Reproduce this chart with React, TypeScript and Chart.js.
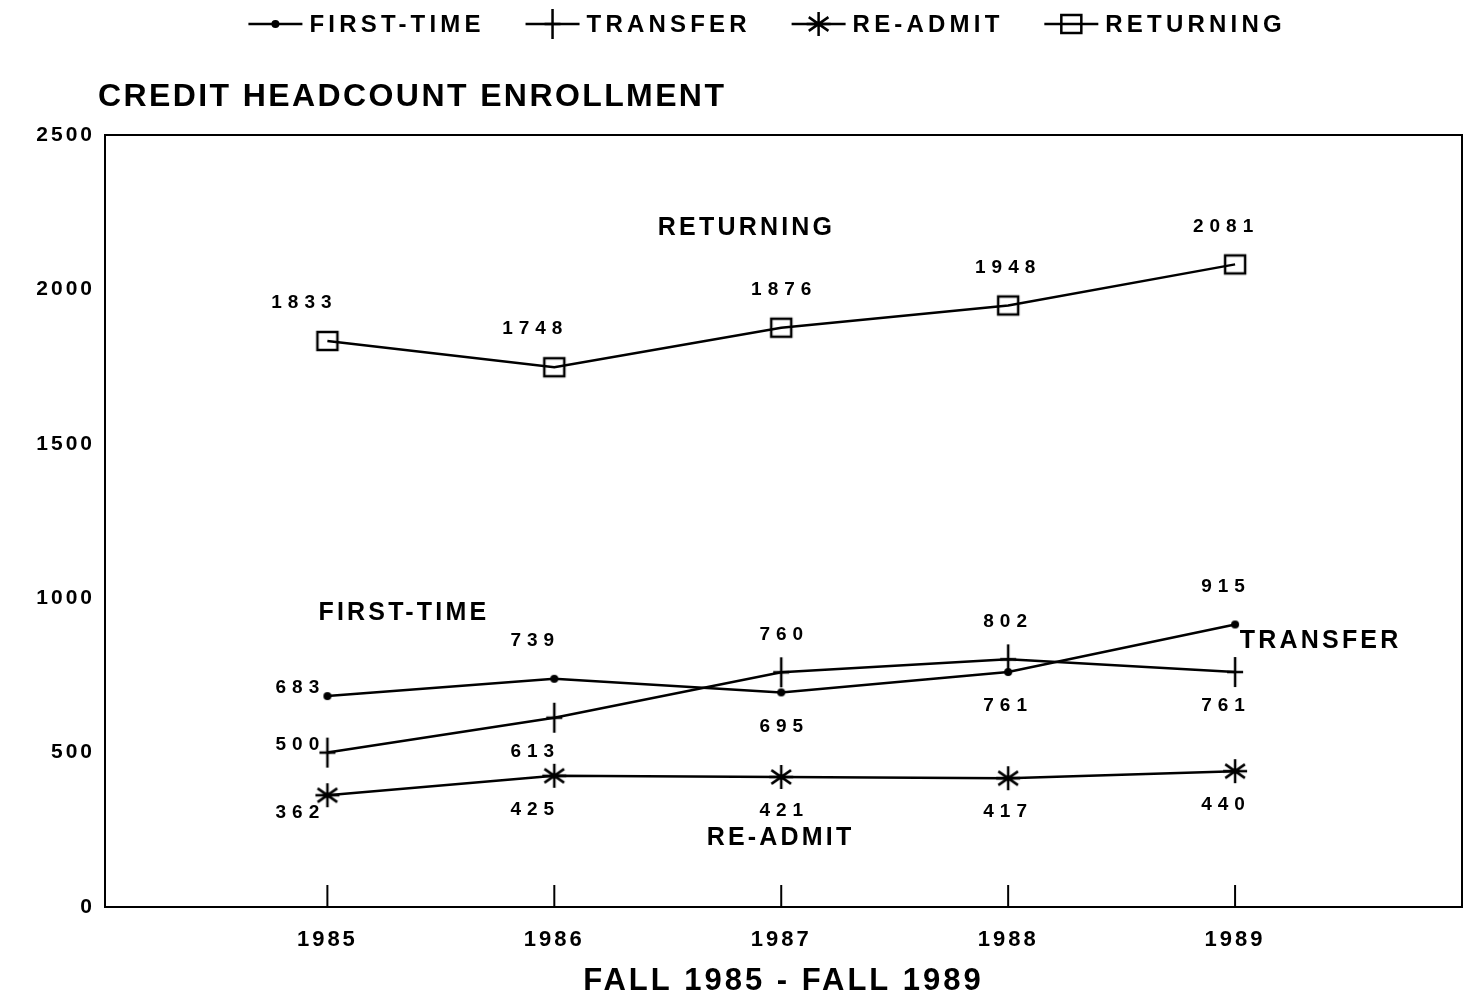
import React, { useEffect, useRef } from 'react';
import { Chart, registerables } from 'chart.js';
Chart.register(...registerables);

// ---------- data ----------
const YEARS = [1985, 1986, 1987, 1988, 1989];
const FIRST_TIME = [683, 739, 695, 761, 915];
const TRANSFER = [500, 613, 760, 802, 761];
const RE_ADMIT = [362, 425, 421, 417, 440];
const RETURNING = [1833, 1748, 1876, 1948, 2081];
const Y_TICKS = [0, 500, 1000, 1500, 2000, 2500];
const SERIES_NAMES = ['FIRST-TIME', 'TRANSFER', 'RE-ADMIT', 'RETURNING'];
const TITLE = 'CREDIT HEADCOUNT ENROLLMENT';
const X_TITLE = 'FALL 1985 - FALL 1989';

// label placement for value labels (per point)
const FIRST_TIME_SIDE = ['left', 'above', 'below', 'below', 'above'];
const TRANSFER_SIDE = ['left', 'below', 'above', 'above', 'below'];
const RE_ADMIT_SIDE = ['belowLeft', 'below', 'below', 'below', 'below'];
const RETURNING_SIDE = ['above', 'above', 'above', 'above', 'above'];
// in-plot series captions, anchored in data coordinates
const CAPTION_X = [1985.33, 1989.37, 1986.99, 1986.84];
const CAPTION_Y = [952, 861, 223, 2199];

const FONT = "'Liberation Sans', Arial, sans-serif";

type Kind = 'dot' | 'plus' | 'star' | 'square';
const KINDS: Kind[] = ['dot', 'plus', 'star', 'square'];

function drawMarker(ctx: CanvasRenderingContext2D, kind: Kind, cx: number, cy: number) {
  ctx.save();
  ctx.strokeStyle = '#000';
  ctx.fillStyle = '#000';
  ctx.lineWidth = 2.5;
  ctx.lineCap = 'butt';
  if (kind === 'dot') {
    ctx.beginPath();
    ctx.arc(cx, cy, 4, 0, Math.PI * 2);
    ctx.fill();
  } else if (kind === 'plus') {
    ctx.beginPath();
    ctx.moveTo(cx, cy - 15);
    ctx.lineTo(cx, cy + 15);
    ctx.moveTo(cx - 8, cy);
    ctx.lineTo(cx + 8, cy);
    ctx.stroke();
  } else if (kind === 'star') {
    const r = 12;
    ctx.beginPath();
    ctx.moveTo(cx, cy - r);
    ctx.lineTo(cx, cy + r);
    const a = (35 * Math.PI) / 180;
    ctx.moveTo(cx - r * Math.cos(a), cy - r * Math.sin(a));
    ctx.lineTo(cx + r * Math.cos(a), cy + r * Math.sin(a));
    ctx.moveTo(cx - r * Math.cos(a), cy + r * Math.sin(a));
    ctx.lineTo(cx + r * Math.cos(a), cy - r * Math.sin(a));
    ctx.moveTo(cx - r, cy);
    ctx.lineTo(cx + r, cy);
    ctx.stroke();
  } else {
    ctx.strokeRect(cx - 10, cy - 9, 20, 18);
  }
  ctx.restore();
}

function markerCanvas(kind: Kind): HTMLCanvasElement {
  const c = document.createElement('canvas');
  c.width = 36;
  c.height = 36;
  const ctx = c.getContext('2d')!;
  drawMarker(ctx, kind, 18, 18);
  return c;
}

function spacedText(ctx: CanvasRenderingContext2D, text: string, x: number, y: number, spacing: number, align: 'left' | 'center' | 'right') {
  (ctx as any).letterSpacing = spacing + 'px';
  const w = ctx.measureText(text).width - spacing;
  let sx = x;
  if (align === 'center') sx = x - w / 2;
  else if (align === 'right') sx = x - w;
  ctx.textAlign = 'left';
  ctx.fillText(text, sx, y);
  (ctx as any).letterSpacing = '0px';
}

const decorPlugin = {
  id: 'decor',
  beforeDraw(chart: any) {
    (chart.ctx as any).letterSpacing = '3px';
  },
  afterDraw(chart: any) {
    const ctx: CanvasRenderingContext2D = chart.ctx;
    const area = chart.chartArea;
    const xs = chart.scales.x;
    const ys = chart.scales.y;
    ctx.save();
    // frame
    ctx.strokeStyle = '#000';
    ctx.lineWidth = 2;
    ctx.strokeRect(area.left, area.top, area.right - area.left, area.bottom - area.top);
    // inward tick marks on the x axis
    ctx.lineWidth = 2;
    YEARS.forEach((yr) => {
      const px = xs.getPixelForValue(yr);
      ctx.beginPath();
      ctx.moveTo(px, area.bottom);
      ctx.lineTo(px, area.bottom - 22);
      ctx.stroke();
    });

    ctx.fillStyle = '#000';
    ctx.textBaseline = 'middle';

    // title
    ctx.font = `bold 32px ${FONT}`;
    spacedText(ctx, TITLE, area.left - 7, 97, 2.4, 'left');

    // legend
    ctx.font = `bold 24px ${FONT}`;
    const legendY = 24;
    const symW = 54;
    const gapSymText = 7;
    const gapItems = 45;
    const sp = 4.2;
    const widths = SERIES_NAMES.map((n) => {
      (ctx as any).letterSpacing = sp + 'px';
      const w = ctx.measureText(n).width - sp;
      (ctx as any).letterSpacing = '0px';
      return w;
    });
    const total = widths.reduce((a, w) => a + symW + gapSymText + w, 0) + gapItems * (SERIES_NAMES.length - 1);
    let lx = 765 - total / 2;
    SERIES_NAMES.forEach((n, i) => {
      ctx.strokeStyle = '#000';
      ctx.lineWidth = 2.5;
      ctx.beginPath();
      ctx.moveTo(lx, legendY);
      ctx.lineTo(lx + symW, legendY);
      ctx.stroke();
      drawMarker(ctx, KINDS[i], lx + symW / 2, legendY);
      lx += symW + gapSymText;
      spacedText(ctx, n, lx, legendY + 1, sp, 'left');
      lx += widths[i] + gapItems;
    });

    // value labels
    const sides = [FIRST_TIME_SIDE, TRANSFER_SIDE, RE_ADMIT_SIDE, RETURNING_SIDE];
    ctx.font = `bold 19px ${FONT}`;
    chart.data.datasets.forEach((ds: any, di: number) => {
      const meta = chart.getDatasetMeta(di);
      meta.data.forEach((el: any, j: number) => {
        const side = sides[di][j];
        const shift = [-26, -22, 0, -3, -12][j];
        let x = el.x + shift;
        let y = el.y;
        if (side === 'above') y -= 38;
        else if (side === 'below') y += 34;
        else if (side === 'left') { x = el.x - 30; y -= 8; }
        else if (side === 'belowLeft') { x = el.x - 30; y += 18; }
        spacedText(ctx, String(ds.data[j].y), x, y, 6, 'center');
      });
    });

    // in-plot captions
    ctx.font = `bold 25px ${FONT}`;
    SERIES_NAMES.forEach((n, i) => {
      spacedText(ctx, n, xs.getPixelForValue(CAPTION_X[i]), ys.getPixelForValue(CAPTION_Y[i]), 3.2, 'center');
    });
    ctx.restore();
    (ctx as any).letterSpacing = '0px';
  },
};

export default function App() {
  const ref = useRef<HTMLCanvasElement | null>(null);
  useEffect(() => {
    const series = [FIRST_TIME, TRANSFER, RE_ADMIT, RETURNING];
    const chart = new Chart(ref.current!, {
      type: 'line',
      data: {
        datasets: series.map((vals, i) => ({
          label: SERIES_NAMES[i],
          data: YEARS.map((yr, j) => ({ x: yr, y: vals[j] })),
          borderColor: '#000',
          borderWidth: 2.5,
          backgroundColor: 'transparent',
          pointStyle: markerCanvas(KINDS[i]) as any,
          pointRadius: 10,
          tension: 0,
          fill: false,
        })),
      },
      options: {
        animation: false,
        responsive: false,
        devicePixelRatio: 1,
        layout: { autoPadding: false, padding: { left: 0, top: 135, right: 2, bottom: 0 } },
        plugins: { legend: { display: false }, title: { display: false }, tooltip: { enabled: false } },
        scales: {
          x: {
            type: 'linear',
            min: 1984.02,
            max: 1990,
            afterBuildTicks: (s: any) => { s.ticks = YEARS.map((v) => ({ value: v })); },
            afterFit: (s: any) => { s.height = 89; s.paddingLeft = 0; s.paddingRight = 0; },
            ticks: {
              color: '#000',
              font: { family: FONT, size: 22, weight: 'bold' },
              padding: 20,
              maxRotation: 0,
              autoSkip: false,
              callback: (v: any) => String(v),
            },
            grid: { display: false, drawTicks: false },
            border: { display: true, color: '#000', width: 2 },
            title: {
              display: true,
              text: X_TITLE,
              color: '#000',
              font: { family: FONT, size: 31, weight: 'bold' },
              padding: { top: 0, bottom: -4 },
            },
          },
          y: {
            type: 'linear',
            min: 0,
            max: 2500,
            afterBuildTicks: (s: any) => { s.ticks = Y_TICKS.map((v) => ({ value: v })); },
            afterFit: (s: any) => { s.width = 105; s.paddingTop = 0; s.paddingBottom = 0; },
            ticks: {
              color: '#000',
              font: { family: FONT, size: 21, weight: 'bold' },
              padding: 10,
              callback: (v: any) => String(v),
            },
            grid: { display: false, drawTicks: false },
            border: { display: true, color: '#000', width: 2 },
          },
        },
      },
      plugins: [decorPlugin],
    });
    return () => chart.destroy();
  }, []);
  return (
    <div style={{ position: 'fixed', left: 0, top: 0, width: 1464, height: 996, background: '#fff' }}>
      <canvas ref={ref} width={1464} height={996} />
    </div>
  );
}
